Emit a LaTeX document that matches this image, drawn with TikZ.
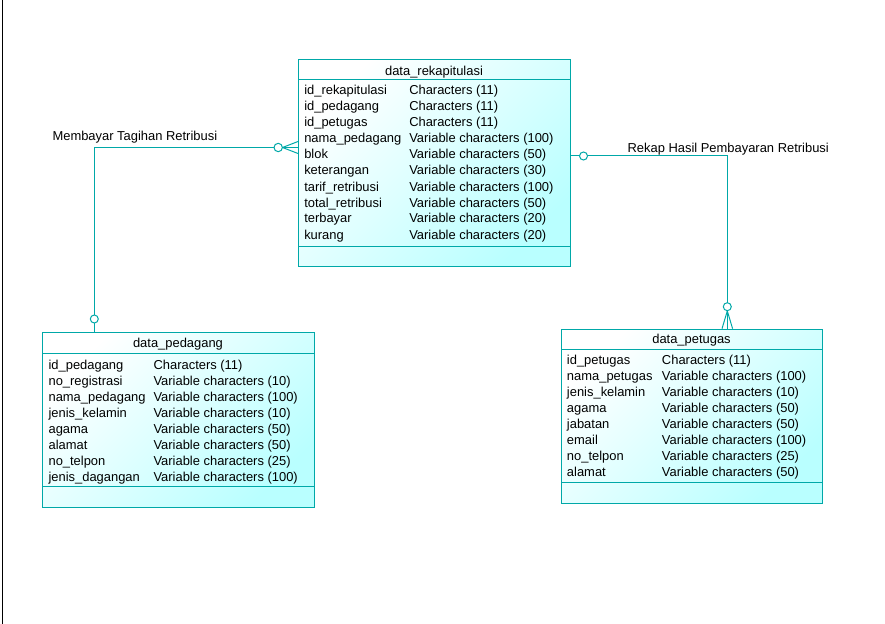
\documentclass[tikz,border=0pt]{standalone}
\usepackage{fontspec}
\setmainfont{Liberation Sans}
\definecolor{erline}{RGB}{0,168,168}
\definecolor{erfill}{RGB}{185,255,255}
\tikzset{
  px/.style={x=0.75pt,y=-0.75pt},
  tbl/.style={draw=erline, line width=0.75pt, rectangle, inner sep=0pt, anchor=north west,
    top color=white, bottom color=erfill, shading angle=45},
  sep/.style={draw=erline, line width=0.75pt},
  conn/.style={draw=erline, line width=0.75pt},
  ring/.style={draw=erline, line width=0.75pt, fill=white},
  txt/.style={anchor=base west, inner sep=0pt, font=\fontsize{9.7pt}{11pt}\selectfont},
  ttl/.style={anchor=base, inner sep=0pt, font=\fontsize{9.7pt}{11pt}\selectfont},
}
\newcommand{\rows}[5]{% prefix, x1, x2, y0, list
  \foreach \a/\b [count=\i from 0] in {#5} {
    \node[txt] (#1n\i) at (#2,{#4+16*\i}) {\a};
    \node[txt] (#1t\i) at (#3,{#4+16*\i}) {\b};
  }}
\begin{document}
\begin{tikzpicture}[px]
\useasboundingbox (0,0) rectangle (885,624);
\draw[line width=0.75pt] (2.5,0) -- (2.5,624);

% data_rekapitulasi
\node[tbl, minimum width=272*0.75pt, minimum height=207*0.75pt] (rek) at (298,59) {};
\draw[sep] (298,80) -- (570,80);
\draw[sep] (298,246) -- (570,246);
\node[ttl] (rekT) at (434,75.4) {data\_rekapitulasi};
\rows{r}{304}{409}{95}{id\_rekapitulasi/Characters (11),id\_pedagang/Characters (11),id\_petugas/Characters (11),nama\_pedagang/Variable characters (100),blok/Variable characters (50),keterangan/Variable characters (30),tarif\_retribusi/Variable characters (100),total\_retribusi/Variable characters (50),terbayar/Variable characters (20),kurang/Variable characters (20)}

% data_pedagang
\node[tbl, minimum width=272*0.75pt, minimum height=175*0.75pt] (ped) at (42,332) {};
\draw[sep] (42,353) -- (314,353);
\draw[sep] (42,486.5) -- (314,486.5);
\node[ttl] (pedT) at (178,347.4) {data\_pedagang};
\rows{p}{48.3}{153.3}{369}{id\_pedagang/Characters (11),no\_registrasi/Variable characters (10),nama\_pedagang/Variable characters (100),jenis\_kelamin/Variable characters (10),agama/Variable characters (50),alamat/Variable characters (50),no\_telpon/Variable characters (25),jenis\_dagangan/Variable characters (100)}

% data_petugas
\node[tbl, minimum width=260.5*0.75pt, minimum height=174*0.75pt] (pet) at (561.3,328.7) {};
\draw[sep] (561.3,349.3) -- (821.8,349.3);
\draw[sep] (561.3,482.3) -- (821.8,482.3);
\node[ttl] (petT) at (691.5,343.7) {data\_petugas};
\rows{q}{566.7}{661.7}{364.1}{id\_petugas/Characters (11),nama\_petugas/Variable characters (100),jenis\_kelamin/Variable characters (10),agama/Variable characters (50),jabatan/Variable characters (50),email/Variable characters (100),no\_telpon/Variable characters (25),alamat/Variable characters (50)}

% connector 1: data_rekapitulasi -- data_pedagang
\coordinate (c1a) at (298,147.5);
\coordinate (c1f) at (282.5,147.5);
\coordinate (c1b) at (94.3,147.5);
\coordinate (c1c) at (94.3,332);
\draw[conn] (c1f) -- (c1b) -- (c1c);
\draw[conn] (c1f) -- (298,141.5);
\draw[conn] (c1f) -- (c1a);
\draw[conn] (c1f) -- (298,153.5);
\node[ring, circle, inner sep=0pt, minimum size=8.4*0.75pt] (r1a) at (278.2,147.5) {};
\node[ring, circle, inner sep=0pt, minimum size=8*0.75pt] (r1b) at (94.3,319) {};
\node[txt] (l1) at (52.3,140.6) {Membayar Tagihan Retribusi};

% connector 2: data_rekapitulasi -- data_petugas
\coordinate (c2a) at (570.5,156);
\coordinate (c2b) at (727.3,156);
\coordinate (c2f) at (727.3,311);
\draw[conn] (c2a) -- (c2b) -- (c2f);
\draw[conn] (c2f) -- (722,328.7);
\draw[conn] (c2f) -- (727.3,328.7);
\draw[conn] (c2f) -- (732.6,328.7);
\node[ring, circle, inner sep=0pt, minimum size=8*0.75pt] (r2a) at (583.5,156) {};
\node[ring, circle, inner sep=0pt, minimum size=8*0.75pt] (r2b) at (727.3,306.7) {};
\node[txt] (l2) at (627.3,152.3) {Rekap Hasil Pembayaran Retribusi};
\end{tikzpicture}
\end{document}
